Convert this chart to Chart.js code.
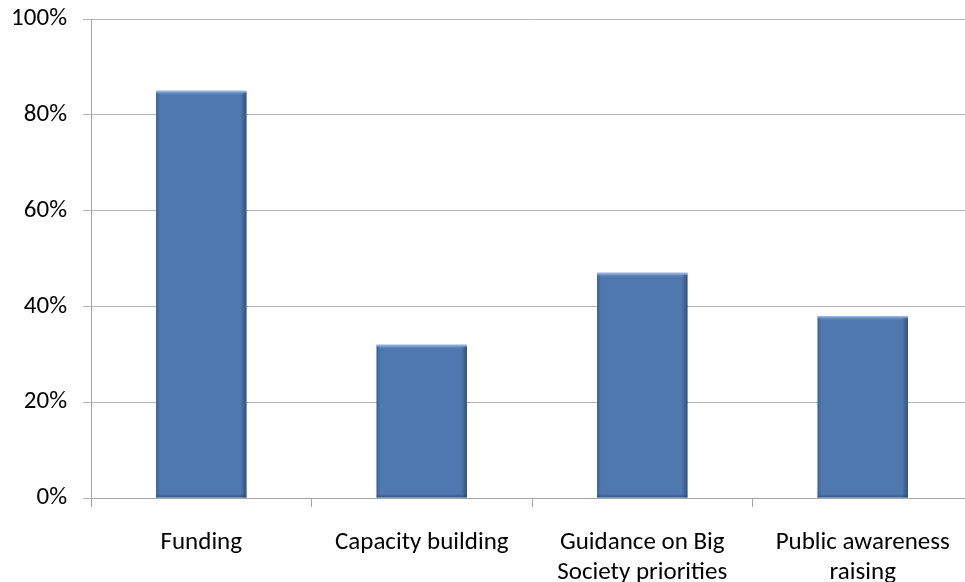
<!DOCTYPE html>
<html>
<head>
<meta charset="utf-8">
<script src="https://cdn.jsdelivr.net/npm/chart.js@4"></script>
<style>
  html, body { margin: 0; padding: 0; background: #fff; overflow: hidden; }
  #wrap { width: 975px; height: 582px; }
</style>
</head>
<body>
<div id="wrap"><canvas id="SupportChart"></canvas></div>
<script>
// --- Data ---
const categories = [
    "Funding",
    "Capacity building",
    ["Guidance on Big", "Society priorities"],
    ["Public awareness", "raising"]
];
const shares = [85, 32, 47, 38];
const yTicks = [0, 20, 40, 60, 80, 100];

const FONT = "Carlito, Lato, 'Liberation Sans', sans-serif";
const BAR_BLUE = '#4e78af';

// --- Bevel shading on bars (light top edge, dark right edge) ---
const bevelPlugin = {
    id: 'bevel',
    afterDatasetsDraw(chart) {
        const ctx = chart.ctx;
        chart.getDatasetMeta(0).data.forEach(bar => {
            const left = bar.x - bar.width / 2;
            const right = bar.x + bar.width / 2;
            const top = bar.y;
            const bottom = bar.base;
            ctx.save();
            // top highlight
            let g = ctx.createLinearGradient(0, top, 0, top + 5);
            g.addColorStop(0, '#a6c3ea');
            g.addColorStop(1, 'rgba(78,120,175,0)');
            ctx.fillStyle = g;
            ctx.fillRect(left, top, bar.width, 5);
            // right shadow
            g = ctx.createLinearGradient(right - 6, 0, right, 0);
            g.addColorStop(0, 'rgba(40,70,110,0)');
            g.addColorStop(1, 'rgba(40,70,110,0.75)');
            ctx.fillStyle = g;
            ctx.fillRect(right - 6, top + 2, 6, bottom - top - 2);
            // left edge
            g = ctx.createLinearGradient(left, 0, left + 4, 0);
            g.addColorStop(0, 'rgba(40,70,110,0.45)');
            g.addColorStop(1, 'rgba(40,70,110,0)');
            ctx.fillStyle = g;
            ctx.fillRect(left, top + 2, 4, bottom - top - 2);
            // bottom edge
            g = ctx.createLinearGradient(0, bottom - 4, 0, bottom);
            g.addColorStop(0, 'rgba(40,70,110,0)');
            g.addColorStop(1, 'rgba(40,70,110,0.6)');
            ctx.fillStyle = g;
            ctx.fillRect(left, bottom - 4, bar.width, 4);
            ctx.restore();
        });
    }
};

new Chart(document.getElementById("SupportChart"), {
    type: 'bar',
    data: {
        labels: categories,
        datasets: [{
            data: shares,
            backgroundColor: BAR_BLUE,
            borderWidth: 0,
            barPercentage: 0.41,
            categoryPercentage: 1
        }]
    },
    plugins: [bevelPlugin],
    options: {
        responsive: true,
        maintainAspectRatio: false,
        animation: false,
        layout: { padding: { top: 19, right: 2, left: 0, bottom: 0 } },
        plugins: {
            legend: { display: false },
            tooltip: { enabled: false }
        },
        scales: {
            x: {
                grid: {
                    display: true,
                    drawOnChartArea: false,
                    offset: true,
                    color: '#a6a6a6',
                    tickLength: 9
                },
                border: { color: '#a6a6a6' },
                ticks: {
                    color: '#000',
                    font: { family: FONT, size: 25, lineHeight: 1.2 },
                    padding: 21,
                    maxRotation: 0,
                    autoSkip: false
                },
                afterFit(scale) {
                    scale.height = 84;
                    scale.paddingLeft = 0;
                    scale.paddingRight = 0;
                }
            },
            y: {
                min: 0,
                max: 100,
                afterBuildTicks(scale) {
                    scale.ticks = yTicks.map(v => ({ value: v }));
                },
                grid: {
                    color: '#b4b4b4',
                    tickLength: 8
                },
                border: { color: '#a6a6a6' },
                ticks: {
                    color: '#000',
                    font: { family: FONT, size: 25 },
                    padding: 16,
                    callback: v => v + '%'
                },
                afterFit(scale) {
                    scale.width = 91;
                    scale.paddingTop = 0;
                    scale.paddingBottom = 0;
                }
            }
        }
    }
});
</script>
</body>
</html>
